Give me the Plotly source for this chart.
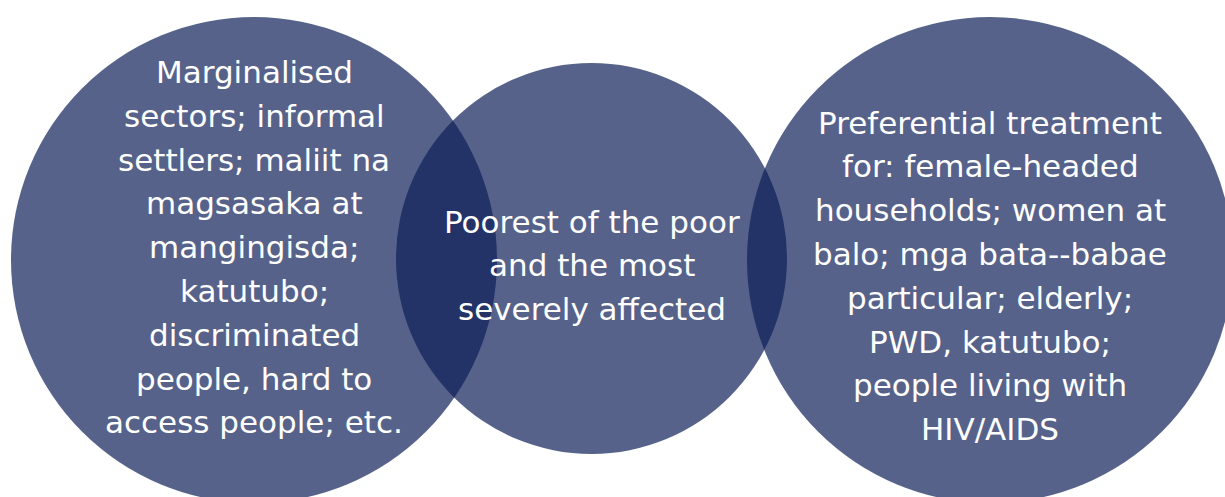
import plotly.graph_objects as go

# Venn geometry (pixel space of the diagram)
set_names = ["Marginalised", "Poorest", "Preferential"]
circle_cx = [254, 591.5, 990]
circle_cy = [260, 258.5, 260]
circle_r = [243, 195.5, 243]

left_lines = [
    "Marginalised",
    "sectors; informal",
    "settlers; maliit na",
    "magsasaka at",
    "mangingisda;",
    "katutubo;",
    "discriminated",
    "people, hard to",
    "access people; etc.",
]
middle_lines = [
    "Poorest of the poor",
    "and the most",
    "severely affected",
]
right_lines = [
    "Preferential treatment",
    "for: female-headed",
    "households; women at",
    "balo; mga bata--babae",
    "particular; elderly;",
    "PWD, katutubo;",
    "people living with",
    "HIV/AIDS",
]
text_blocks = [left_lines, middle_lines, right_lines]
first_line_y = [72, 221.5, 122.5]

W, H = 1225, 497
FILL = "rgba(14,31,88,0.70)"
FONT = "DejaVu Sans"
FSIZE = 31
LINE_STEP = 43.8

fig = go.Figure()
fig.add_trace(go.Scatter(x=[0, W], y=[0, H], mode="markers",
                         marker=dict(opacity=0), hoverinfo="skip", showlegend=False))

for cx, cy, r in zip(circle_cx, circle_cy, circle_r):
    fig.add_shape(type="circle", xref="x", yref="y",
                  x0=cx - r, x1=cx + r, y0=cy - r, y1=cy + r,
                  fillcolor=FILL, line=dict(width=0), layer="below")

for lines, cx, y0 in zip(text_blocks, circle_cx, first_line_y):
    for i, line in enumerate(lines):
        fig.add_annotation(x=cx, y=y0 + i * LINE_STEP, xref="x", yref="y",
                           text=line, showarrow=False, xanchor="center", yanchor="middle",
                           font=dict(family=FONT, size=FSIZE, color="white"))

fig.update_layout(
    width=W, height=H,
    margin=dict(l=0, r=0, t=0, b=0),
    paper_bgcolor="white", plot_bgcolor="white",
    xaxis=dict(range=[0, W], visible=False, fixedrange=True),
    yaxis=dict(range=[H, 0], visible=False, fixedrange=True),
    showlegend=False,
)

fig.write_html("out.html", config={"displayModeBar": False},
               post_script="document.body.style.margin='0';document.body.style.overflow='hidden';")
